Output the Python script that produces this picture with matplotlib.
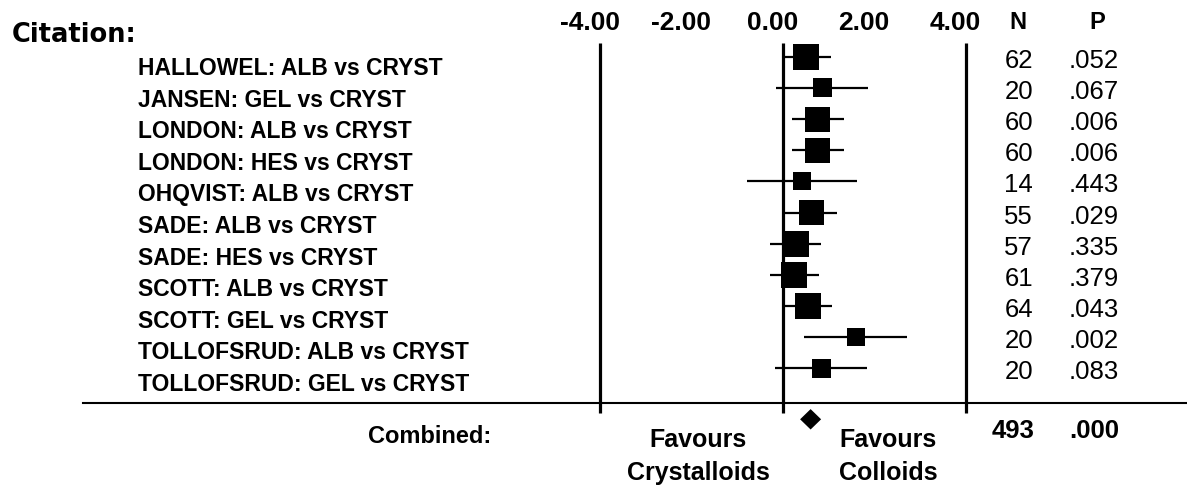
import numpy as np
import matplotlib
matplotlib.use("Agg")
import matplotlib.pyplot as plt
import matplotlib.transforms as mtransforms

# ---------------- data ----------------
studies = [
    "HALLOWEL: ALB vs CRYST",
    "JANSEN: GEL vs CRYST",
    "LONDON: ALB vs CRYST",
    "LONDON: HES vs CRYST",
    "OHQVIST: ALB vs CRYST",
    "SADE: ALB vs CRYST",
    "SADE: HES vs CRYST",
    "SCOTT: ALB vs CRYST",
    "SCOTT: GEL vs CRYST",
    "TOLLOFSRUD: ALB vs CRYST",
    "TOLLOFSRUD: GEL vs CRYST",
]
estimates = [0.52, 0.87, 0.765, 0.765, 0.43, 0.63, 0.28, 0.25, 0.55, 1.61, 0.84]
ci_low = [0.01, -0.15, 0.21, 0.21, -0.79, 0.05, -0.27, -0.28, 0.05, 0.47, -0.17]
ci_high = [1.05, 1.87, 1.33, 1.33, 1.63, 1.19, 0.83, 0.79, 1.07, 2.71, 1.84]
weights = [26, 19, 25, 25, 18, 25, 26, 26, 26, 18, 19]   # relative study weight (box size)
n_values = [62, 20, 60, 60, 14, 55, 57, 61, 64, 20, 20]
p_values = [".052", ".067", ".006", ".006", ".443", ".029", ".335", ".379", ".043", ".002", ".083"]
combined_est = 0.61
combined_n = 493
combined_p = ".000"
tick_values = [-4, -2, 0, 2, 4]
line_values = [-4, 0, 4]

# ---------------- layout ----------------
W, H = 1187, 487
fig = plt.figure(figsize=(W / 100, H / 100), dpi=100)
fig.patch.set_facecolor("white")
ax = fig.add_axes([0, 0, 1, 1])
ax.set_axis_off()

X0_PX, UNIT_PX = 782.7, 45.75      # pixel of x=0 and pixels per unit
ROW0_PX, ROW_PX = 56.7, 31.16      # pixel of first row and row spacing
ax.set_xlim(-X0_PX / UNIT_PX, (W - X0_PX) / UNIT_PX)
ax.set_ylim((H - ROW0_PX) / ROW_PX, -ROW0_PX / ROW_PX)

pix = mtransforms.Affine2D().scale(1 / W, -1 / H).translate(0, 1) + fig.transFigure
xd_ypix = mtransforms.blended_transform_factory(ax.transData, pix)

ARIAL = "Liberation Sans"
rows = np.arange(len(studies))

# vertical reference lines
ax.vlines(line_values, 43, 413, transform=xd_ypix, colors="black", lw=2.3)
# horizontal separator
ax.plot([83, W], [403.3, 403.3], transform=pix, color="black", lw=1.5)

# confidence intervals and boxes
ax.hlines(rows, ci_low, ci_high, colors="black", lw=1.6)
ax.scatter(estimates, rows, s=(np.array(weights) * 0.72) ** 2, marker="s",
           c="black", linewidths=0, zorder=3)

# combined diamond
hw = 10.5 / UNIT_PX
yc = 419.3
ax.fill([combined_est - hw, combined_est, combined_est + hw, combined_est],
        [yc, yc - 10.2, yc, yc + 10.2], transform=xd_ypix, color="black", lw=0)

# tick labels
for v in tick_values:
    ax.text(v - 10.0 / UNIT_PX, 30.5, f"{v:.2f}", transform=xd_ypix, ha="center",
            va="baseline", fontsize=19, fontweight="bold", family=ARIAL)

# headers
fig.text(12, 41.7, "Citation:", transform=pix, ha="left", va="baseline",
         fontsize=18.5, fontweight="bold", family="DejaVu Sans")
fig.text(1018, 29.3, "N", transform=pix, ha="center", va="baseline",
         fontsize=17, fontweight="bold", family=ARIAL)
fig.text(1097, 29.3, "P", transform=pix, ha="center", va="baseline",
         fontsize=17, fontweight="bold", family=ARIAL)

# study labels
for j, name in enumerate(studies):
    fig.text(138, 75 + 31.6 * j, name, transform=pix, ha="left", va="baseline",
             fontsize=16.5, fontweight="bold", family=ARIAL)

# N and P columns
for i, (nv, pv) in enumerate(zip(n_values, p_values)):
    yb = ROW0_PX + ROW_PX * i + 11
    fig.text(1033, yb, str(nv), transform=pix, ha="right", va="baseline",
             fontsize=18.5, family=ARIAL)
    fig.text(1119, yb, pv, transform=pix, ha="right", va="baseline",
             fontsize=18.5, family=ARIAL)

# combined row
fig.text(491, 442.7, "Combined:", transform=pix, ha="right", va="baseline",
         fontsize=17, fontweight="bold", family=ARIAL)
fig.text(1035, 438.3, str(combined_n), transform=pix, ha="right", va="baseline",
         fontsize=18.5, fontweight="bold", family=ARIAL)
fig.text(1119, 438.3, combined_p, transform=pix, ha="right", va="baseline",
         fontsize=18.5, fontweight="bold", family=ARIAL)

# favours labels
for xc, l1, l2 in [(698, "Favours", "Crystalloids"), (888, "Favours", "Colloids")]:
    fig.text(xc, 447.3, l1, transform=pix, ha="center", va="baseline",
             fontsize=18, fontweight="bold", family=ARIAL)
    fig.text(xc, 480, l2, transform=pix, ha="center", va="baseline",
             fontsize=18, fontweight="bold", family=ARIAL)

fig.savefig("out.png", dpi=100, facecolor="white")
